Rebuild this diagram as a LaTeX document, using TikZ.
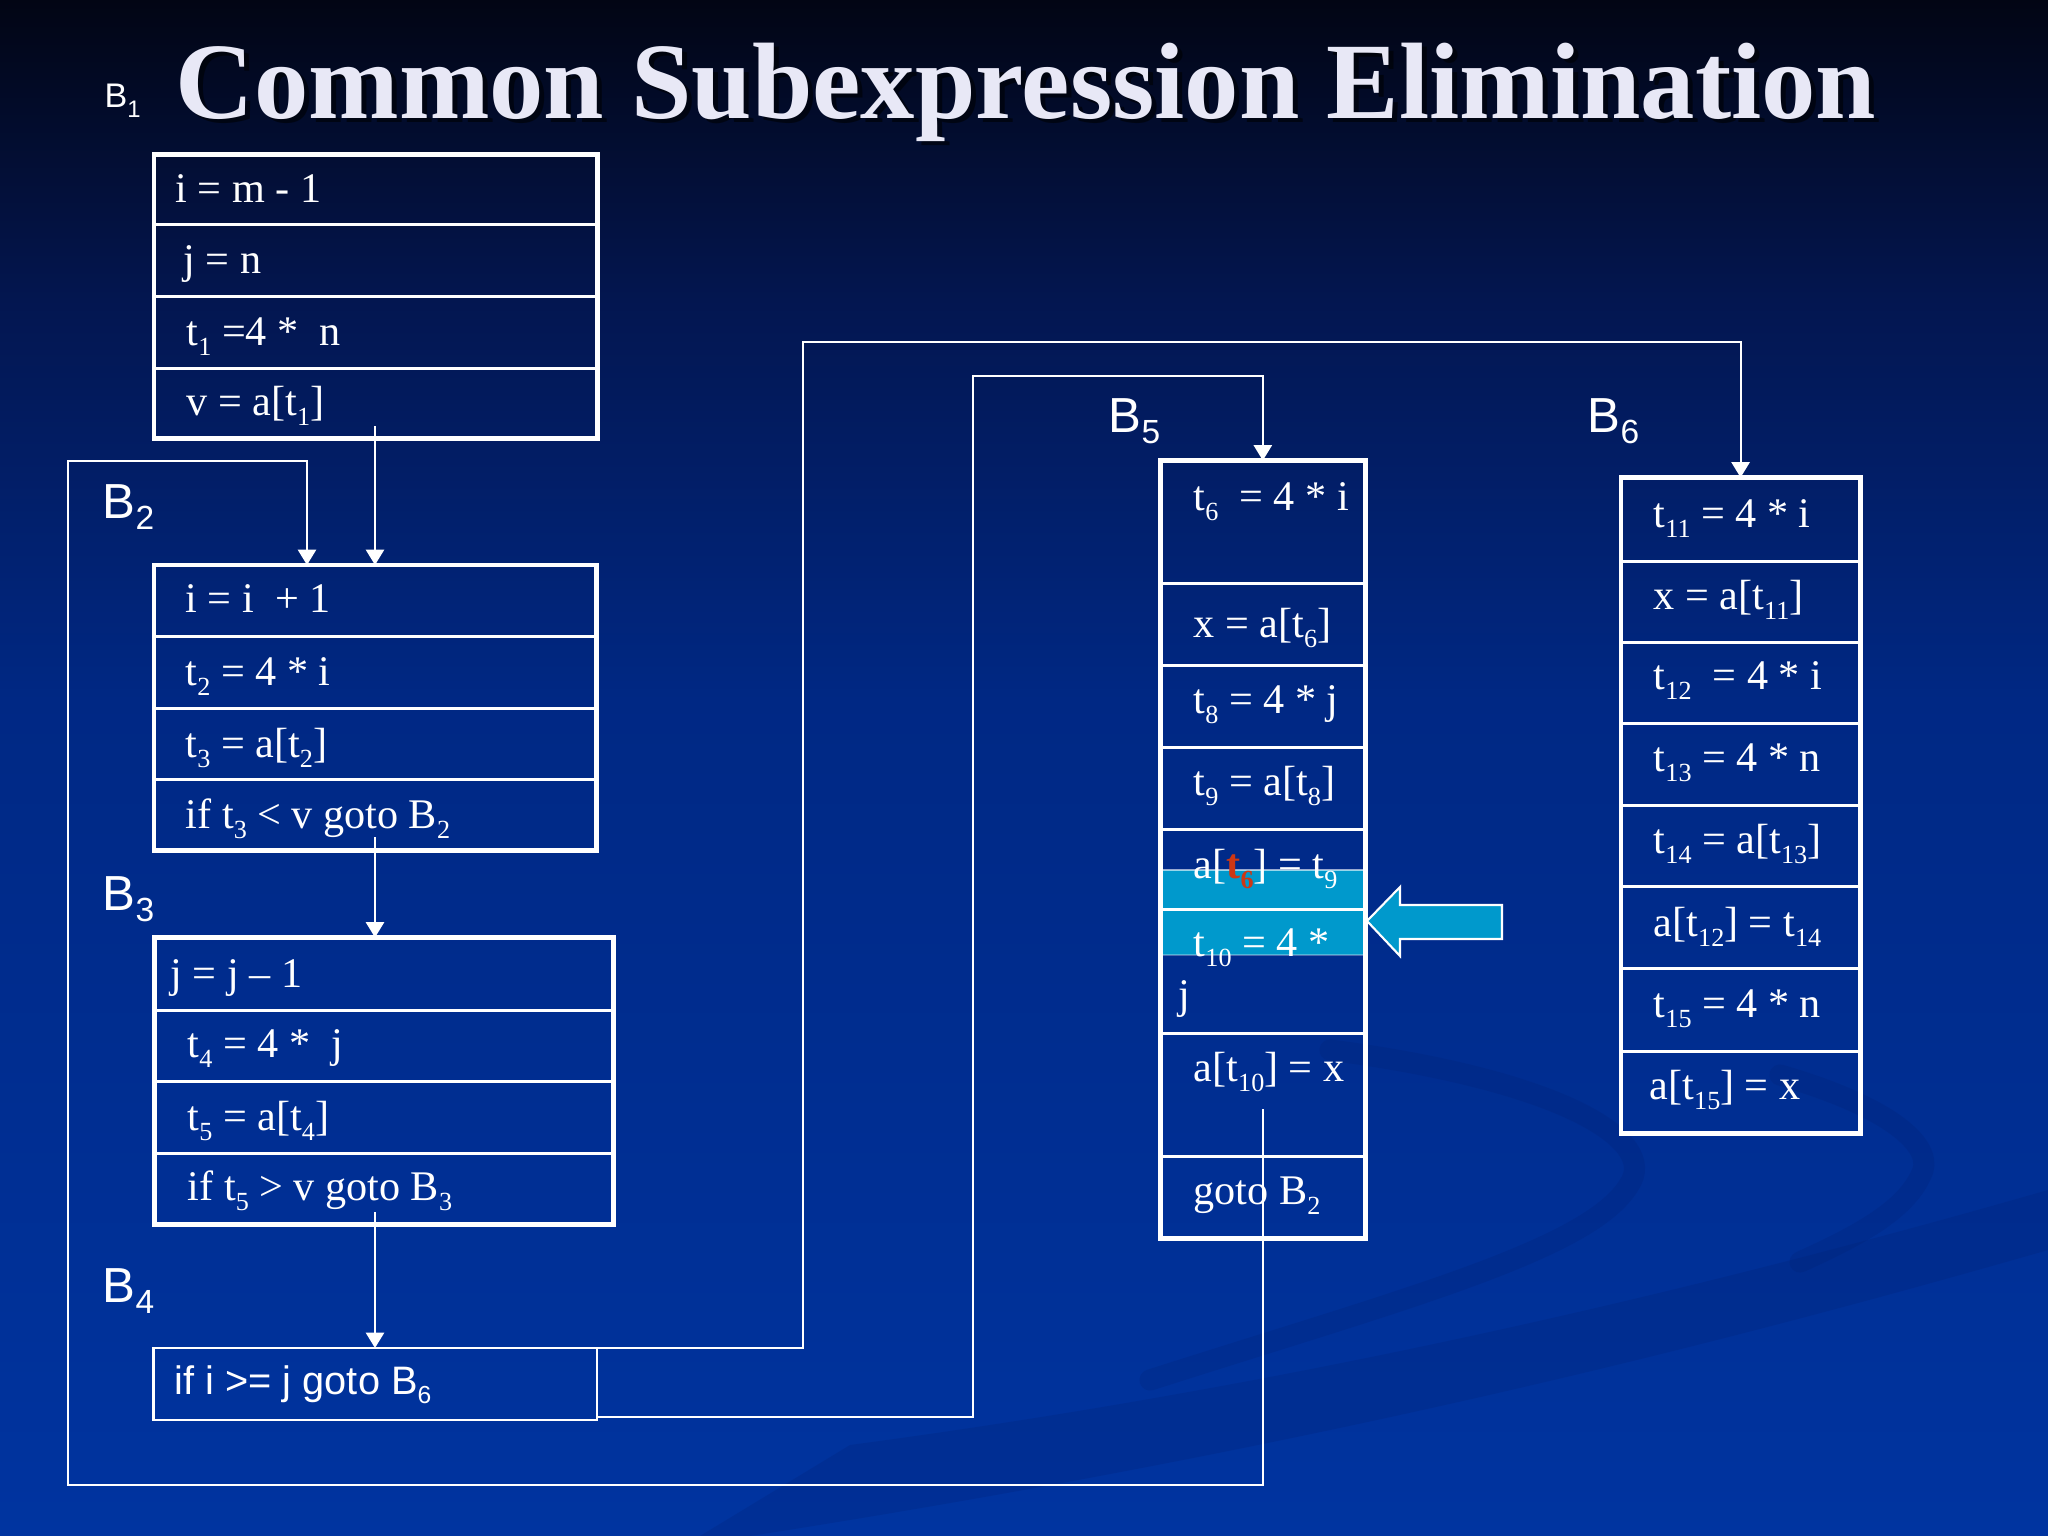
\documentclass[tikz,border=0pt]{standalone}
\usepackage{fontspec}
\setmainfont{Liberation Serif}
\setsansfont{Liberation Sans}
\usepackage{graphicx}
\usetikzlibrary{arrows.meta,calc}
\definecolor{bgA}{RGB}{2,5,20}
\definecolor{bgB}{RGB}{3,22,80}
\definecolor{bgC}{RGB}{0,40,132}
\definecolor{bgD}{RGB}{0,52,160}
\definecolor{swoosh}{RGB}{0,30,110}
\definecolor{hlcyan}{RGB}{0,153,204}
\definecolor{tred}{RGB}{205,55,20}
\definecolor{titlec}{RGB}{232,232,246}
\newcommand{\sbs}[1]{\raisebox{-0.25em}{\scalebox{0.62}{#1}}}
\newcommand{\lsb}[1]{\raisebox{-0.24em}{\scalebox{0.68}{#1}}}
\begin{document}
\begin{tikzpicture}[x=0.01cm,y=-0.01cm,
  codetxt/.style={text=white,inner sep=0,anchor=base west,font=\fontsize{12pt}{14pt}\selectfont},
  sanstxt/.style={text=white,inner sep=0,anchor=base west,font=\sffamily\fontsize{11.3pt}{13pt}\selectfont},
  lbl/.style={text=white,inner sep=0,anchor=base west,font=\sffamily\fontsize{14pt}{16pt}\selectfont},
  blk/.style={draw=white,line width=1.4pt,inner sep=0,outer sep=0,anchor=north west},
  thinblk/.style={draw=white,line width=0.6pt,inner sep=0,outer sep=0,anchor=north west},
  sep/.style={draw=white,line width=0.85pt},
  arr/.style={draw=white,line width=0.6pt,-{Triangle[length=4.4pt,width=5.2pt]}},
  swirl/.style={draw=swoosh,opacity=0.2,line width=6pt,line cap=round},
]
\useasboundingbox (0,0) rectangle (2048,1536);
% background
\shade[top color=bgA,bottom color=bgB] (0,0) rectangle (2048,300);
\shade[top color=bgB,bottom color=bgC] (0,299) rectangle (2048,700);
\shade[top color=bgC,bottom color=bgD] (0,699) rectangle (2048,1536);
% swooshes (faint)
\fill[swoosh,opacity=0.2] (850,1445) .. controls (1300,1385) and (1700,1290) .. (2048,1190)
  -- (2048,1250) .. controls (1700,1350) and (1300,1450) .. (750,1536) -- (700,1536) -- cycle;
\draw[swirl] (1330,1050) .. controls (1560,1080) and (1660,1140) .. (1629,1185)
  .. controls (1590,1250) and (1400,1300) .. (1150,1380);
\draw[swirl] (1780,1075) .. controls (1900,1110) and (1935,1150) .. (1921,1175)
  .. controls (1905,1210) and (1860,1235) .. (1800,1262);
% highlight band in B5
\fill[hlcyan] (1163,870) rectangle (1363,955);
\draw[white,opacity=0.6,line width=0.4pt] (1163,870) -- (1363,870);
\draw[white,opacity=0.3,line width=0.4pt] (1163,955) -- (1363,955);
% blocks
\node[blk,minimum width=44.3mm,minimum height=28.35mm] (b1) at (154,154.5) {};
\node[blk,minimum width=44.25mm,minimum height=28.5mm] (b2) at (154,565) {};
\node[blk,minimum width=45.9mm,minimum height=28.7mm] (b3) at (154.5,937.5) {};
\node[thinblk,minimum width=44.35mm,minimum height=7.2mm] (b4) at (153.5,1348) {};
\node[blk,minimum width=20.45mm,minimum height=77.75mm] (b5) at (1160.5,460.5) {};
\node[blk,minimum width=23.9mm,minimum height=65.6mm] (b6) at (1621,477.5) {};
% separators
\foreach \yy in {224,296,368} \draw[sep] (b1.west |- 0,\yy) -- (b1.east |- 0,\yy);
\foreach \yy in {636,708,779} \draw[sep] (b2.west |- 0,\yy) -- (b2.east |- 0,\yy);
\foreach \yy in {1010,1081,1153} \draw[sep] (b3.west |- 0,\yy) -- (b3.east |- 0,\yy);
\foreach \yy in {583,665,747,829,909,1033,1156} \draw[sep] (b5.west |- 0,\yy) -- (b5.east |- 0,\yy);
\foreach \yy in {561,642,723,805,886,968,1051} \draw[sep] (b6.west |- 0,\yy) -- (b6.east |- 0,\yy);
% labels
\node[lbl,font=\sffamily\fontsize{9.7pt}{11pt}\selectfont] (lb1) at (104,107) {B\raisebox{-0.3em}{\scalebox{0.7}{1}}};
\node[lbl] (lb2) at (102,518) {B\lsb{2}};
\node[lbl] (lb3) at (102,910) {B\lsb{3}};
\node[lbl] (lb4) at (102,1302) {B\lsb{4}};
\node[lbl] (lb5) at (1108,432) {B\lsb{5}};
\node[lbl] (lb6) at (1587,432) {B\lsb{6}};
% B1 text
\node[codetxt] (t11) at (175,202) {i = m - 1};
\node[codetxt] (t12) at (183,273) {j = n};
\node[codetxt] (t13) at (186,345) {t\sbs{1} =4 *\ \ n};
\node[codetxt] (t14) at (186,415) {v = a[t\sbs{1}]};
% B2 text
\node[codetxt] (t21) at (185,612) {i = i\ \ + 1};
\node[codetxt] (t22) at (185,685) {t\sbs{2} = 4 * i};
\node[codetxt] (t23) at (185,757) {t\sbs{3} = a[t\sbs{2}]};
\node[codetxt] (t24) at (185,828) {if t\sbs{3} < v goto B\sbs{2}};
% B3 text
\node[codetxt] (t31) at (170,987) {j = j – 1};
\node[codetxt] (t32) at (187,1057) {t\sbs{4} = 4 *\ \ j};
\node[codetxt] (t33) at (187,1130) {t\sbs{5} = a[t\sbs{4}]};
\node[codetxt] (t34) at (187,1200) {if t\sbs{5} > v goto B\sbs{3}};
% B4 text
\node[sanstxt] (t41) at (174,1394) {if i >= j goto B\sbs{6}};
% B5 text
\node[codetxt] (t51) at (1193,510) {t\sbs{6}\ \ = 4 * i};
\node[codetxt] (t52) at (1193,637) {x = a[t\sbs{6}]};
\node[codetxt] (t53) at (1193,713) {t\sbs{8} = 4 * j};
\node[codetxt] (t54) at (1193,795) {t\sbs{9} = a[t\sbs{8}]};
\node[codetxt] (t55) at (1193,878) {a[{\color{tred}\bfseries t\sbs{6}}] = t\sbs{9}};
\node[codetxt] (t56) at (1193,956) {t\sbs{10} = 4 *};
\node[codetxt] (t56b) at (1178,1008) {j};
\node[codetxt] (t57) at (1193,1081) {a[t\sbs{10}] = x};
\node[codetxt] (t58) at (1193,1204) {goto B\sbs{2}};
% B6 text
\node[codetxt] (t61) at (1653,527) {t\sbs{11} = 4 * i};
\node[codetxt] (t62) at (1653,609) {x = a[t\sbs{11}]};
\node[codetxt] (t63) at (1653,689) {t\sbs{12}\ \ = 4 * i};
\node[codetxt] (t64) at (1653,771) {t\sbs{13} = 4 * n};
\node[codetxt] (t65) at (1653,853) {t\sbs{14} = a[t\sbs{13}]};
\node[codetxt] (t66) at (1653,936) {a[t\sbs{12}] = t\sbs{14}};
\node[codetxt] (t67) at (1653,1017) {t\sbs{15} = 4 * n};
\node[codetxt] (t68) at (1649,1099) {a[t\sbs{15}] = x};
% block arrow pointing at highlighted rows
\filldraw[fill=hlcyan,draw=white,line width=0.6pt] (1367,921) -- (1400,887) -- (1400,905) -- (1502,905)
  -- (1502,939) -- (1400,939) -- (1400,956) -- cycle;
% connectors
\coordinate (c1) at (375,426);
\coordinate (c2) at (375,837);
\coordinate (c3) at (375,1212);
\coordinate (g5) at (1263,1109);
\coordinate (lpA) at (68,1485);
\coordinate (lpB) at (307,461);
\coordinate (k1) at (803,342);
\coordinate (k2) at (973,376);
\coordinate (b4s) at (b4.east |- 0,1417);
\draw[arr] (c1) -- (c1 |- b2.north);
\draw[arr] (c2) -- (c2 |- b3.north);
\draw[arr] (c3) -- (c3 |- b4.north);
\draw[arr] (g5) |- (lpA) |- (lpB) -- (lpB |- b2.north);
\draw[arr] (b4.north east) -| (k1) -| (b6.north);
\draw[arr] (b4s) -| (k2) -| (b5.north);
% title
\node[anchor=base west,inner sep=0,text=black,opacity=0.55,font=\fontsize{30.9pt}{36pt}\selectfont\bfseries] (titlesh) at (180,122) {Common Subexpression Elimination};
\node[anchor=base west,inner sep=0,text=titlec,font=\fontsize{30.9pt}{36pt}\selectfont\bfseries] (title) at (175,118) {Common Subexpression Elimination};
\end{tikzpicture}
\end{document}
